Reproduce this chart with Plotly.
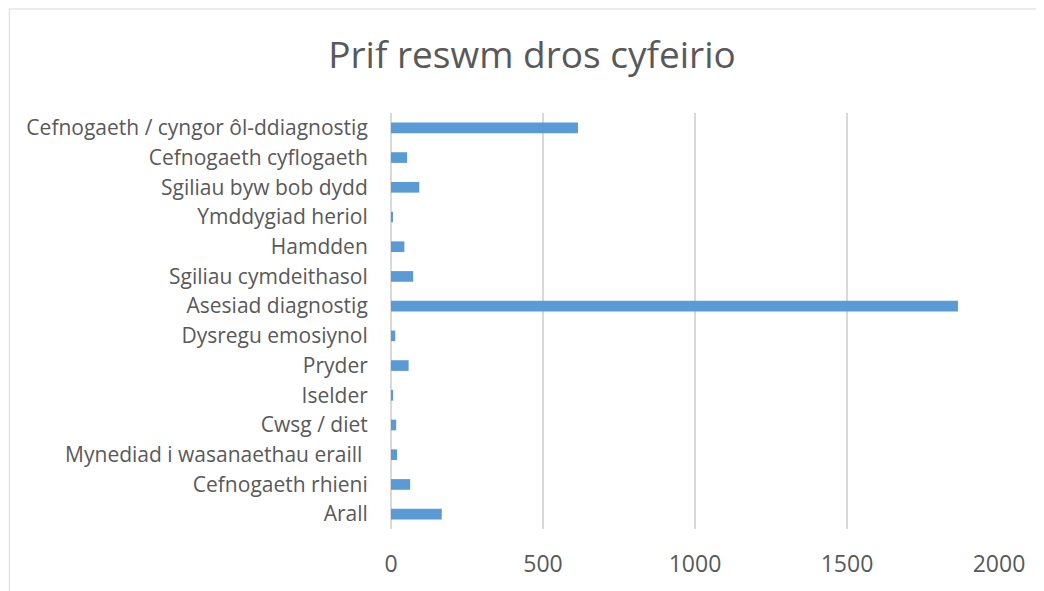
import plotly.graph_objects as go

categories = [
    "Cefnogaeth / cyngor ôl-ddiagnostig",
    "Cefnogaeth cyflogaeth",
    "Sgiliau byw bob dydd",
    "Ymddygiad heriol",
    "Hamdden",
    "Sgiliau cymdeithasol",
    "Asesiad diagnostig",
    "Dysregu emosiynol",
    "Pryder",
    "Iselder",
    "Cwsg / diet",
    "Mynediad i wasanaethau eraill ",
    "Cefnogaeth rhieni",
    "Arall",
]
values = [615, 53, 93, 6, 44, 73, 1865, 14, 58, 7, 17, 20, 63, 167]
x_ticks = [0, 500, 1000, 1500, 2000]

# page body has an 8px margin, so figure coordinates are screen - 8
OFF = 8
W, H = 1044 - OFF, 591 - OFF
L, R, T, B = 390.5 - OFF, 999 - OFF, 113 - OFF, 529 - OFF

fig = go.Figure(go.Bar(
    y=categories, x=values, orientation="h",
    marker=dict(color="#5B9BD5", line=dict(width=0)),
))

def px(xp):
    return (xp - L) / (R - L)

def py(yp):
    return (B - yp) / (B - T)

fig.add_shape(type="rect", xref="paper", yref="paper",
              x0=px(0.5), x1=px(1060), y0=py(610), y1=py(1),
              line=dict(color="#D9D9D9", width=1), layer="below")

fig.update_layout(
    width=W, height=H,
    margin=dict(l=L, r=W - R, t=T, b=H - B, pad=0),
    paper_bgcolor="white", plot_bgcolor="white",
    bargap=0.64,
    showlegend=False,
    font=dict(family="Open Sans", color="#595959", size=21),
    title=dict(text="Prif reswm dros cyfeirio", x=(532 - OFF) / W, xanchor="center",
               y=1 - (55 - OFF) / H, yanchor="middle",
               font=dict(family="Open Sans", size=37, color="#595959")),
    xaxis=dict(range=[0, 2000], tickvals=x_ticks, showgrid=True,
               gridcolor="#D9D9D9", gridwidth=1.5, zeroline=True,
               zerolinecolor="#D9D9D9", zerolinewidth=1.5,
               ticks="outside", ticklen=14, tickcolor="rgba(0,0,0,0)",
               tickfont=dict(size=23), showline=False),
    yaxis=dict(autorange="reversed", showgrid=False, ticks="outside",
               ticklen=18, tickcolor="rgba(0,0,0,0)", tickfont=dict(size=21)),
)

fig.write_html("out.html")
